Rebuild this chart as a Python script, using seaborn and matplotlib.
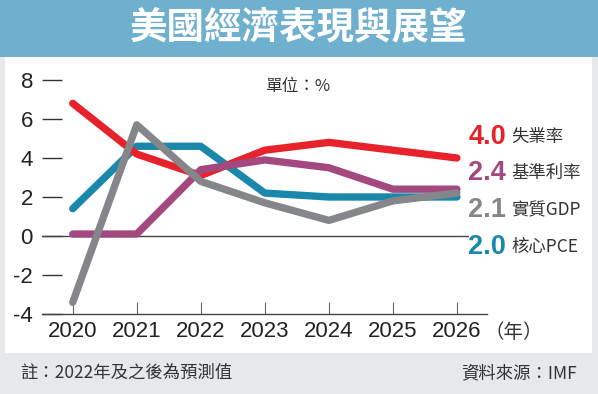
import matplotlib
matplotlib.use("Agg")
import matplotlib.pyplot as plt
from matplotlib.patches import Rectangle
import seaborn as sns
import pandas as pd

# ---- data ----
years = [2020, 2021, 2022, 2023, 2024, 2025, 2026]
unemployment = [6.8, 4.2, 3.1, 4.4, 4.8, 4.4, 4.0]
fed_rate = [0.1, 0.1, 3.4, 3.9, 3.5, 2.4, 2.4]
core_pce = [1.4, 4.6, 4.6, 2.2, 2.0, 2.0, 2.0]
real_gdp = [-3.4, 5.7, 2.8, 1.7, 0.8, 1.8, 2.2]

series_names = ["失業率", "基準利率", "實質GDP", "核心PCE"]
end_labels = ["4.0", "2.4", "2.1", "2.0"]
yticks = [-4, -2, 0, 2, 4, 6, 8]
title = "美國經濟表現與展望"
unit_text = "單位：%"
year_unit = "（年）"
note_text = "註：2022年及之後為預測值"
source_text = "資料來源：IMF"

colors = {"失業率": "#e8222b", "基準利率": "#a3497f",
          "實質GDP": "#85868a", "核心PCE": "#1a88ab"}

df = pd.concat([
    pd.DataFrame({"year": years, "value": unemployment, "series": "失業率"}),
    pd.DataFrame({"year": years, "value": fed_rate, "series": "基準利率"}),
    pd.DataFrame({"year": years, "value": core_pce, "series": "核心PCE"}),
    pd.DataFrame({"year": years, "value": real_gdp, "series": "實質GDP"}),
])

sns.set_theme(style="white")
plt.rcParams["font.family"] = ["Liberation Sans", "Noto Sans CJK TC", "DejaVu Sans"]
CJK = ["Noto Sans CJK TC", "DejaVu Sans"]

W, H = 598, 394
fig = plt.figure(figsize=(W / 100, H / 100), dpi=100, facecolor="#e7e8ea")

# background panels
fig.add_artist(Rectangle((5 / W, 1 - 353 / H), 587 / W, 296 / H, transform=fig.transFigure,
                         facecolor="white", edgecolor="none", zorder=-2))
fig.add_artist(Rectangle((0, 1 - 57 / H), 1, 57 / H, transform=fig.transFigure,
                         facecolor="#70b0cf", edgecolor="none", zorder=-1))
fig.text(0.5, 1 - 28 / H, title, ha="center", va="center", color="white",
         fontsize=27, fontweight="bold", family=CJK)

ax = fig.add_axes([42 / W, 80 / H, 445 / W, 0.6237])
ax.set_facecolor("none")

hue_order = ["核心PCE", "失業率", "基準利率", "實質GDP"]
sns.lineplot(data=df, x="year", y="value", hue="series", hue_order=hue_order,
             palette=colors, linewidth=5.3, legend=False, ax=ax,
             solid_capstyle="round", solid_joinstyle="round")

ax.axhline(0, xmin=0, xmax=0.957, color="#444444", lw=1.0, zorder=1)

ax.set_xlim(2019.52, 2026.47)
ax.set_ylim(-4, 8.6)
ax.set_xticks(years)
ax.set_xticklabels([str(y) for y in years])
ax.set_yticks(yticks)
ax.set_yticklabels([str(v) for v in yticks])
ax.set_xlabel("")
ax.set_ylabel("")
for s in ["top", "right", "left"]:
    ax.spines[s].set_visible(False)
ax.spines["bottom"].set_color("#444444")
ax.spines["bottom"].set_linewidth(1.0)
ax.tick_params(axis="y", direction="in", length=14.4, width=1.0, color="#333333",
               pad=6.5, labelsize=16, labelcolor="#222222", left=True)
ax.tick_params(axis="x", direction="in", length=8.6, width=0.8, color="#666666",
               pad=5, labelsize=16, labelcolor="#222222", bottom=True)

# unit text
fig.text(298 / W, 1 - 87 / H, unit_text, ha="center", va="center", fontsize=12,
         color="#333333", family=CJK)
fig.text(484 / W, 1 - 332 / H, year_unit, ha="left", va="center", fontsize=14,
         color="#333333", family=CJK)

# end labels
label_y = [137, 173, 210, 247]
for name, lab, yy in zip(series_names, end_labels, label_y):
    fig.text(506 / W, 1 - yy / H, lab, ha="right", va="center", fontsize=19.5,
             fontweight="bold", color=colors[name], family="Liberation Sans")
    fig.text(511 / W, 1 - yy / H, name, ha="left", va="center", fontsize=12.5,
             color="#333333", family=CJK)

# footer
fig.text(20 / W, 1 - 373 / H, note_text, ha="left", va="center", fontsize=12.5,
         color="#333333", family=CJK)
fig.text(577 / W, 1 - 373 / H, source_text, ha="right", va="center", fontsize=12.5,
         color="#333333", family=CJK)

fig.savefig("out.png", dpi=100, facecolor=fig.get_facecolor())
